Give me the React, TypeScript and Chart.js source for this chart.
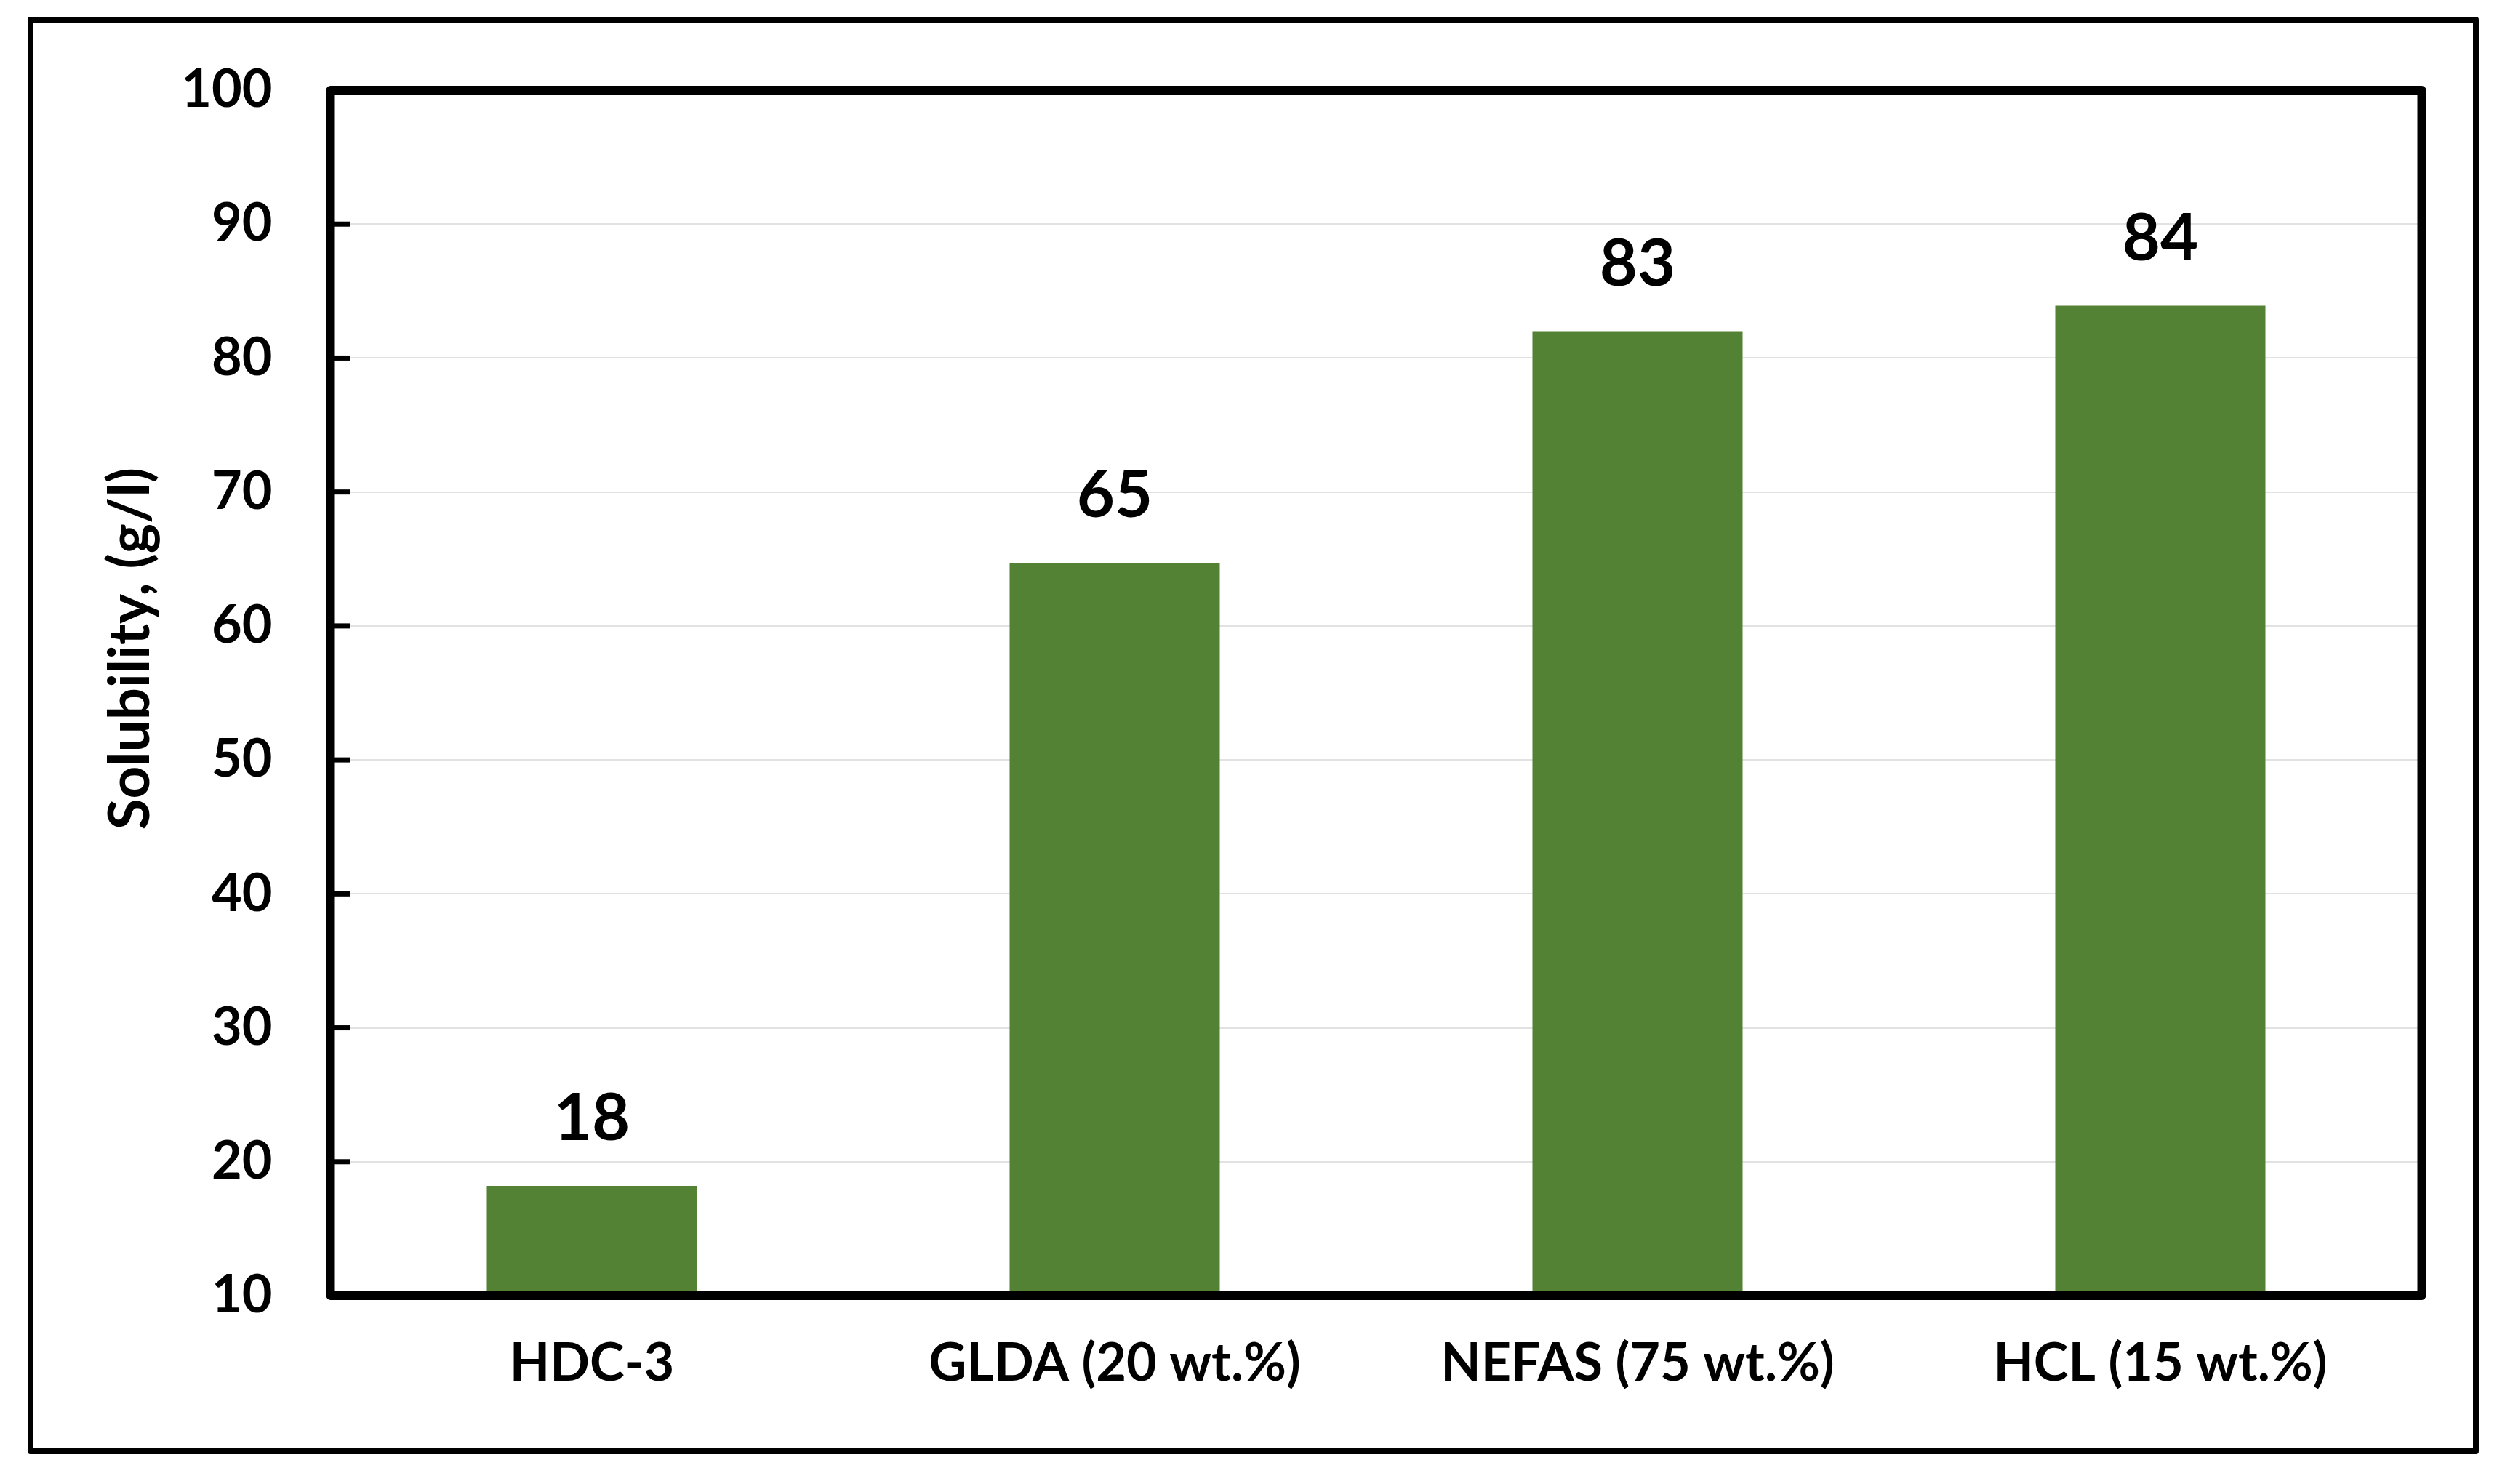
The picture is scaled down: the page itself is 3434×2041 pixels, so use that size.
import React, { useEffect, useRef } from "react";
import { Chart, registerables } from "chart.js";

Chart.register(...registerables);

const categories = ["HDC-3", "GLDA (20 wt.%)", "NEFAS (75 wt.%)", "HCL (15 wt.%)"];
const solubility = [18.2, 64.7, 82.0, 83.9];
const valueLabels = ["18", "65", "83", "84"];
const yMin = 10;
const yMax = 100;
const yStep = 10;
const yTitle = "Solubility, (g/l)";

const FONT = "Lato, 'Open Sans', sans-serif";
const W = 3434;
const H = 2041;

const decorPlugin = {
  id: "decor",
  beforeDraw(chart: any) {
    const ctx = chart.ctx;
    ctx.save();
    ctx.fillStyle = "#ffffff";
    ctx.fillRect(0, 0, chart.width, chart.height);
    ctx.restore();
  },
  afterDatasetsDraw(chart: any) {
    const { ctx, chartArea: a, scales } = chart;
    ctx.save();
    // inward tick marks on the y axis
    ctx.strokeStyle = "#000000";
    ctx.lineWidth = 7;
    scales.y.ticks.forEach((t: any) => {
      const y = scales.y.getPixelForValue(t.value);
      ctx.beginPath();
      ctx.moveTo(a.left, y);
      ctx.lineTo(a.left + 27, y);
      ctx.stroke();
    });
    // plot-area frame
    ctx.lineWidth = 12;
    ctx.lineJoin = "round";
    ctx.strokeRect(a.left, a.top, a.right - a.left, a.bottom - a.top);
    // value labels above bars
    const meta = chart.getDatasetMeta(0);
    ctx.fillStyle = "#000000";
    ctx.font = `bold 90px ${FONT}`;
    ctx.textAlign = "center";
    ctx.textBaseline = "alphabetic";
    meta.data.forEach((bar: any, i: number) => {
      ctx.fillText(valueLabels[i], bar.x, bar.y - 63);
    });
    // outer chart frame
    ctx.lineWidth = 8;
    ctx.strokeRect(42, 27, 3405 - 42, 1996 - 27);
    // y-axis title
    ctx.translate(180, 892);
    ctx.rotate(-Math.PI / 2);
    ctx.font = `bold 78px ${FONT}`;
    ctx.textAlign = "center";
    ctx.textBaseline = "middle";
    ctx.fillText(yTitle, 0, 0);
    ctx.restore();
  },
};

export default function App() {
  const canvasRef = useRef<HTMLCanvasElement | null>(null);

  useEffect(() => {
    document.body.style.margin = "0";
    let chart: Chart | null = null;
    let cancelled = false;
    const make = () => {
      if (cancelled || !canvasRef.current) return;
      chart = new Chart(canvasRef.current, {
        type: "bar",
        data: {
          labels: categories,
          datasets: [
            {
              data: solubility,
              backgroundColor: "#548235",
              borderWidth: 0,
              barPercentage: 0.402,
              categoryPercentage: 1,
            },
          ],
        },
        options: {
          animation: false,
          responsive: false,
          devicePixelRatio: 1,
          layout: { padding: { left: 0, right: 103.5, top: 124, bottom: 0 } },
          plugins: {
            legend: { display: false },
            tooltip: { enabled: false },
            title: { display: false },
          },
          scales: {
            x: {
              grid: { display: false, drawTicks: false },
              border: { display: false },
              ticks: {
                color: "#000000",
                font: { family: FONT, weight: "bold", size: 72 },
                padding: 51,
                maxRotation: 0,
                autoSkip: false,
              },
              afterFit: (s: any) => {
                s.height = 259;
              },
            },
            y: {
              min: yMin,
              max: yMax,
              grid: { color: "#e2e2e2", lineWidth: 2, drawTicks: false },
              border: { display: false },
              ticks: {
                stepSize: yStep,
                color: "#000000",
                font: { family: FONT, weight: "bold", size: 72 },
                padding: 80,
              },
              afterFit: (s: any) => {
                s.width = 454.5;
              },
            },
          },
        },
        plugins: [decorPlugin],
      });
    };
    const fontsReady = (document as any).fonts
      ? Promise.all([
          (document as any).fonts.load(`bold 72px Lato`),
          (document as any).fonts.load(`bold 90px Lato`),
        ]).catch(() => null)
      : Promise.resolve(null);
    fontsReady.then(make);
    return () => {
      cancelled = true;
      if (chart) chart.destroy();
    };
  }, []);

  return (
    <div style={{ width: W, height: H, background: "#ffffff" }}>
      <canvas ref={canvasRef} width={W} height={H} style={{ width: W, height: H, display: "block" }} />
    </div>
  );
}
